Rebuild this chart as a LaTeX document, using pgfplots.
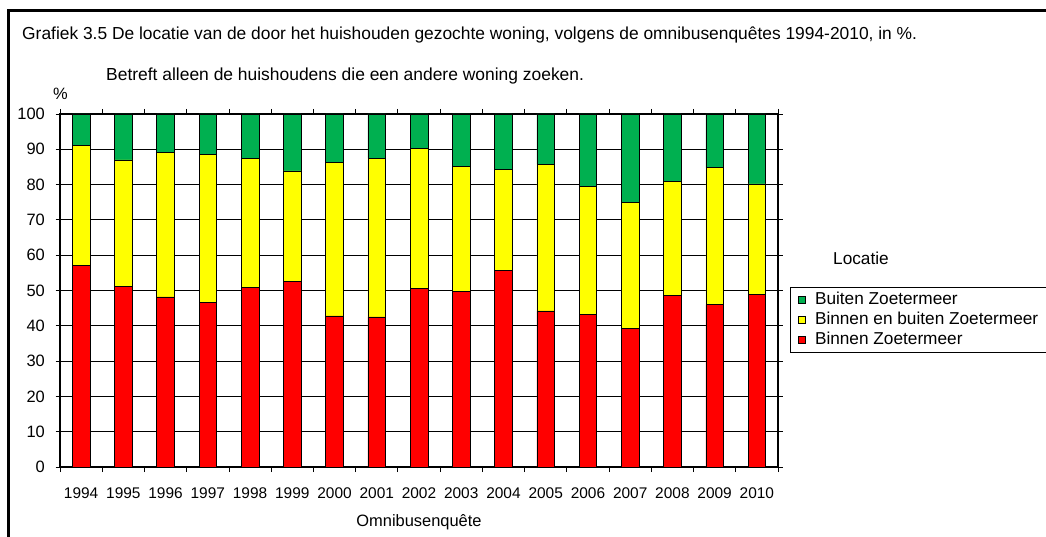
\documentclass[border=0pt]{standalone}
\usepackage{fontspec}
\setmainfont{Liberation Sans}
\usepackage{pgfplots}
\usepackage{pgfplotstable}
\pgfplotsset{compat=1.18}

\definecolor{xlgreen}{RGB}{0,176,80}
\definecolor{xlyellow}{RGB}{255,255,0}
\definecolor{xlred}{RGB}{255,0,0}

% binnen = Binnen Zoetermeer, beide = Binnen en buiten, buiten = Buiten Zoetermeer
\pgfplotstableread{
x year binnen beide buiten
0  1994 57.2 33.9  8.9
1  1995 51.2 35.8 13.0
2  1996 48.2 41.0 10.8
3  1997 46.7 41.9 11.4
4  1998 50.9 36.6 12.5
5  1999 52.5 31.4 16.1
6  2000 42.8 43.6 13.6
7  2001 42.5 45.0 12.5
8  2002 50.6 39.6  9.8
9  2003 49.7 35.4 14.9
10 2004 55.6 28.6 15.8
11 2005 44.2 41.6 14.2
12 2006 43.2 36.3 20.5
13 2007 39.2 35.8 25.0
14 2008 48.5 32.3 19.2
15 2009 46.0 38.8 15.2
16 2010 48.8 31.4 19.8
}\locatie

\begin{document}
\begin{tikzpicture}
\path[use as bounding box] (0bp,0bp) rectangle (1046bp,537bp);
% outer frame (only top and left are inside the picture)
\draw[line width=3bp] (8.3bp,-20bp) -- (8.3bp,526.3bp) -- (1070bp,526.3bp);

\node[anchor=base west, inner sep=0pt, font=\fontsize{17.45}{20}\selectfont] at (22bp,497.7bp)
  {Grafiek 3.5 De locatie van de door het huishouden gezochte woning, volgens de omnibusenquêtes 1994-2010, in \%.};
\node[anchor=base west, inner sep=0pt, font=\fontsize{17.5}{20}\selectfont] at (106bp,456bp)
  {Betreft alleen de huishoudens die een andere woning zoeken.};
\node[anchor=base west, inner sep=0pt, font=\fontsize{16.5}{20}\selectfont] at (53bp,437bp) {\%};
\node[anchor=base west, inner sep=0pt, font=\fontsize{17.3}{20}\selectfont] at (833bp,272bp) {Locatie};

\begin{axis}[
    at={(60bp,70bp)}, anchor=south west,
    scale only axis,
    width=718bp, height=353bp,
    ybar stacked,
    bar width=17.6bp,
    xmin=-0.5, xmax=16.5,
    ymin=0, ymax=100,
    ytick={0,10,...,100},
    xtick={0,...,16},
    xticklabels={1994,1995,1996,1997,1998,1999,2000,2001,2002,2003,2004,2005,2006,2007,2008,2009,2010},
    minor xtick={-0.5,0.5,...,16.5},
    every major x tick/.style={draw=none},
    tick align=outside,
    major tick length=4.5bp,
    minor tick length=5bp,
    tick style={black, line width=0.8bp},
    ymajorgrids,
    grid style={black, line width=0.8bp},
    axis line style={black, line width=1.4bp},
    /pgf/number format/assume math mode=true,
    xticklabel style={font=\fontsize{15.5}{18}\selectfont, anchor=base, inner sep=0pt, yshift=-27bp},
    yticklabel style={font=\fontsize{16.5}{18}\selectfont, anchor=east, inner sep=0pt, xshift=-10.5bp},
    xlabel={Omnibusenquête},
    xlabel style={at={(axis description cs:0.5,0)}, anchor=base, inner sep=0pt, yshift=-59bp,
        font=\fontsize{16.5}{20}\selectfont},
    legend style={
        at={(1.01671,0.510)}, anchor=north west,
        draw=black, line width=0.8bp,
        font=\fontsize{17.3}{20}\selectfont,
        inner xsep=8bp, inner ysep=2.5bp,
        row sep=0bp, column sep=7bp,
        nodes={inner sep=2bp, text height=12.5bp, text depth=3.5bp},
    },
    legend cell align=left,
    reverse legend,
    legend image code/.code={
        \draw[#1, draw=black, line width=0.6bp] (0bp,-3.5bp) rectangle (7bp,3.5bp);
    },
]
\addplot[fill=xlred, draw=black, line width=0.6bp] table[x=x, y=binnen] {\locatie};
\addplot[fill=xlyellow, draw=black, line width=0.6bp] table[x=x, y=beide] {\locatie};
\addplot[fill=xlgreen, draw=black, line width=0.6bp] table[x=x, y=buiten] {\locatie};
\legend{Binnen Zoetermeer, Binnen en buiten Zoetermeer, Buiten Zoetermeer}
\end{axis}
\end{tikzpicture}
\end{document}
